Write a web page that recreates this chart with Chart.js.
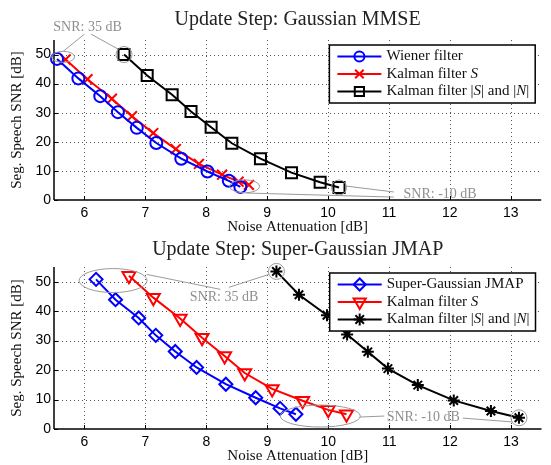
<!DOCTYPE html>
<html>

<head>
    <title>Update Step</title>
    <script src="https://cdn.jsdelivr.net/npm/chart.js"></script>
    <style>
        body { margin: 0; background: #fff; }
        canvas { display: block; }
    </style>
</head>

<body>
    <canvas id="top" width="551" height="236"></canvas>
    <canvas id="bottom" width="551" height="229"></canvas>

    <script type="text/javascript">
        // tick labels
        const xTicks = [6, 7, 8, 9, 10, 11, 12, 13];
        const yTicks = [0, 10, 20, 30, 40, 50];

        // Update step: Gaussian MMSE
        const wienerX = [5.55, 5.90, 6.26, 6.55, 6.86, 7.18, 7.59, 8.02, 8.37, 8.56];
        const wienerY = [48.5, 41.8, 35.7, 30.2, 24.8, 19.6, 14.2, 9.8, 6.6, 4.5];
        const kalmanSX = [5.69, 6.05, 6.45, 6.78, 7.13, 7.50, 7.88, 8.26, 8.53, 8.70];
        const kalmanSY = [48.3, 41.5, 34.8, 28.8, 23.0, 17.5, 12.4, 8.7, 6.3, 5.2];
        const kalmanSNX = [6.65, 7.03, 7.44, 7.75, 8.08, 8.42, 8.89, 9.40, 9.87, 10.18];
        const kalmanSNY = [50.0, 42.8, 36.2, 30.4, 25.0, 19.5, 14.2, 9.4, 6.1, 4.3];

        // Update step: Super-Gaussian JMAP
        const jmapX = [6.19, 6.51, 6.89, 7.17, 7.49, 7.84, 8.32, 8.81, 9.21, 9.47];
        const jmapY = [50.8, 43.9, 37.7, 31.8, 26.3, 20.9, 15.2, 10.6, 7.0, 5.0];
        const jmapKalmanSX = [6.73, 7.13, 7.57, 7.93, 8.30, 8.63, 9.08, 9.58, 10.00, 10.30];
        const jmapKalmanSY = [52.0, 44.6, 37.5, 31.0, 24.8, 19.0, 13.6, 9.6, 6.5, 5.0];
        const jmapKalmanSNX = [9.15, 9.52, 9.98, 10.31, 10.65, 10.98, 11.47, 12.06, 12.67, 13.13];
        const jmapKalmanSNY = [53.5, 45.6, 38.6, 32.1, 26.2, 20.5, 14.9, 9.7, 6.1, 3.8];

        const SERIF = "'Liberation Serif', 'DejaVu Serif', serif";
        const SANS = "'Liberation Sans', Arial, sans-serif";
        const NOTE = '#8f8f8f';

        function pts(xs, ys) {
            return xs.map((x, i) => ({ x: x, y: ys[i] }));
        }

        function line(ctx, x1, y1, x2, y2) {
            ctx.beginPath();
            ctx.moveTo(x1, y1);
            ctx.lineTo(x2, y2);
            ctx.stroke();
        }

        // dotted grid, axes and inward ticks
        const frame = {
            id: 'frame',
            beforeDatasetsDraw(chart) {
                const { ctx, chartArea: a, scales: { x, y } } = chart;
                ctx.save();
                ctx.strokeStyle = '#555';
                ctx.lineWidth = 1;
                ctx.setLineDash([1, 3]);
                xTicks.forEach(v => {
                    const p = Math.round(x.getPixelForValue(v)) + 0.5;
                    line(ctx, p, a.top, p, a.bottom);
                });
                yTicks.forEach(v => {
                    if (v === 0) return;
                    const p = Math.round(y.getPixelForValue(v)) + 0.5;
                    line(ctx, a.left, p, a.right, p);
                });
                ctx.setLineDash([]);
                ctx.strokeStyle = '#000';
                xTicks.forEach(v => {
                    const p = Math.round(x.getPixelForValue(v)) + 0.5;
                    line(ctx, p, a.bottom, p, a.bottom - 4);
                });
                yTicks.forEach(v => {
                    const p = Math.round(y.getPixelForValue(v)) + 0.5;
                    line(ctx, a.left, p, a.left + 4, p);
                });
                ctx.lineWidth = 1.5;
                line(ctx, a.left, a.top, a.left, a.bottom);
                line(ctx, a.left, a.bottom, a.right, a.bottom);
                ctx.restore();
            }
        };

        // gray SNR call-outs, anchored in data units
        const notes = {
            id: 'notes',
            afterDatasetsDraw(chart, args, opts) {
                const { ctx, scales: { x, y } } = chart;
                const px = v => x.getPixelForValue(v);
                const py = v => y.getPixelForValue(v);
                ctx.save();
                ctx.strokeStyle = '#9a9a9a';
                ctx.lineWidth = 1;
                opts.rings.forEach(r => {
                    ctx.beginPath();
                    ctx.ellipse(px(r.x), py(r.y), r.rx, r.ry, 0, 0, 2 * Math.PI);
                    ctx.stroke();
                });
                opts.leaders.forEach(l => line(ctx, px(l[0]), py(l[1]), px(l[2]), py(l[3])));
                ctx.fillStyle = NOTE;
                ctx.font = '14px ' + SERIF;
                ctx.textAlign = 'center';
                ctx.textBaseline = 'middle';
                opts.labels.forEach(t => ctx.fillText(t.text, px(t.x), py(t.y)));
                ctx.restore();
            }
        };

        // boxed legend with italic math symbols
        const boxLegend = {
            id: 'boxLegend',
            afterDraw(chart, args, opts) {
                const { ctx, chartArea: a } = chart;
                const up = '15px ' + SERIF, it = 'italic 15px ' + SERIF;
                ctx.save();
                let maxW = 0;
                opts.rows.forEach(r => {
                    let w = 0;
                    r.parts.forEach(p => { ctx.font = p[1] ? it : up; w += ctx.measureText(p[0]).width; });
                    maxW = Math.max(maxW, w);
                });
                const w = 57 + maxW + 6, h = 58;
                const left = a.right - 6 - w, top = a.top + opts.top;
                ctx.fillStyle = '#fff';
                ctx.fillRect(left, top, w, h);
                ctx.strokeStyle = '#000';
                ctx.lineWidth = 1.5;
                ctx.strokeRect(left, top, w, h);
                opts.rows.forEach((r, i) => {
                    const cy = top + 11.5 + i * 17.5;
                    ctx.strokeStyle = r.color;
                    ctx.lineWidth = 2;
                    line(ctx, left + 8, cy, left + 52, cy);
                    ctx.fillStyle = 'rgba(0,0,0,0)';
                    Chart.helpers.drawPoint(ctx, {
                        pointStyle: r.style, radius: r.radius, rotation: r.rotation || 0, borderWidth: 2
                    }, left + 30, cy);
                    ctx.fillStyle = '#111';
                    ctx.textBaseline = 'middle';
                    let tx = left + 57;
                    r.parts.forEach(p => {
                        ctx.font = p[1] ? it : up;
                        ctx.fillText(p[0], tx, cy);
                        tx += ctx.measureText(p[0]).width;
                    });
                });
                ctx.restore();
            }
        };

        function series(xs, ys, color, style, radius, rotation) {
            return {
                data: pts(xs, ys),
                borderColor: color,
                backgroundColor: color,
                borderWidth: 2,
                tension: 0,
                pointStyle: style,
                pointRadius: radius,
                pointRotation: rotation || 0,
                pointBorderWidth: 2,
                pointBorderColor: color,
                pointBackgroundColor: 'rgba(0,0,0,0)',
                clip: false
            };
        }

        function makeChart(id, title, titlePad, datasets, rows, legendTop, callouts) {
            return new Chart(document.getElementById(id), {
                type: 'line',
                data: { datasets: datasets },
                plugins: [frame, notes, boxLegend],
                options: {
                    responsive: false,
                    animation: false,
                    events: [],
                    layout: { padding: { left: 0, right: 1, top: 0, bottom: 0 } },
                    scales: {
                        x: {
                            type: 'linear', min: 5.5, max: 13.5,
                            afterBuildTicks: s => { s.ticks = xTicks.map(v => ({ value: v })); },
                            afterFit: s => { s.height = 36; },
                            grid: { display: false, drawTicks: false },
                            border: { display: false },
                            ticks: { color: '#000', padding: 5, font: { family: SANS, size: 14 } },
                            title: {
                                display: true, text: 'Noise Attenuation [dB]', color: '#111',
                                font: { family: SERIF, size: 15 }, padding: { top: 0, bottom: 0 }
                            }
                        },
                        y: {
                            type: 'linear', min: 0, max: 55,
                            afterBuildTicks: s => { s.ticks = yTicks.map(v => ({ value: v })); },
                            afterFit: s => { s.width = 54; },
                            grid: { display: false, drawTicks: false },
                            border: { display: false },
                            ticks: { color: '#000', padding: 3, font: { family: SANS, size: 14 } },
                            title: {
                                display: true, text: 'Seg. Speech SNR [dB]', color: '#111',
                                font: { family: SERIF, size: 15 }, padding: { top: 8, bottom: 0 }
                            }
                        }
                    },
                    plugins: {
                        legend: { display: false },
                        tooltip: { enabled: false },
                        title: {
                            display: true, text: title, fullSize: false, color: '#222',
                            font: { family: SERIF, size: 20, weight: 'normal' },
                            padding: titlePad
                        },
                        notes: callouts,
                        boxLegend: { rows: rows, top: legendTop }
                    }
                }
            });
        }

        makeChart('top', 'Update Step: Gaussian MMSE', { top: 8, bottom: 8 }, [
            series(wienerX, wienerY, '#0000ff', 'circle', 6),
            series(kalmanSX, kalmanSY, '#ff0000', 'crossRot', 7),
            series(kalmanSNX, kalmanSNY, '#000000', 'rect', 7.8)
        ], [
            { parts: [['Wiener filter', false]], color: '#0000ff', style: 'circle', radius: 5 },
            { parts: [['Kalman filter ', false], ['S', true]], color: '#ff0000', style: 'crossRot', radius: 6 },
            { parts: [['Kalman filter |', false], ['S', true], ['| and |', false], ['N', true], ['|', false]],
              color: '#000000', style: 'rect', radius: 6.5 }
        ], 5, {
            rings: [
                { x: 5.65, y: 49.2, rx: 11.5, ry: 5.5 },
                { x: 6.65, y: 50.0, rx: 8, ry: 8 },
                { x: 8.63, y: 4.7, rx: 15, ry: 6.5 },
                { x: 10.18, y: 4.3, rx: 7.5, ry: 7.5 }
            ],
            leaders: [
                [6.0, 57.0, 5.65, 51.1],
                [6.11, 57.0, 6.55, 51.9],
                [10.29, 4.8, 11.08, 2.76],
                [8.66, 2.4, 11.08, 1.0]
            ],
            labels: [
                { text: 'SNR: 35 dB', x: 6.05, y: 59.4 },
                { text: 'SNR: -10 dB', x: 11.84, y: 2.1 }
            ]
        });

        makeChart('bottom', 'Update Step: Super-Gaussian JMAP', { top: 2, bottom: 5 }, [
            series(jmapX, jmapY, '#0000ff', 'rectRot', 6.5),
            series(jmapKalmanSX, jmapKalmanSY, '#ff0000', 'triangle', 7.5, 180),
            series(jmapKalmanSNX, jmapKalmanSNY, '#000000', 'star', 6)
        ], [
            { parts: [['Super-Gaussian JMAP', false]], color: '#0000ff', style: 'rectRot', radius: 6 },
            { parts: [['Kalman filter ', false], ['S', true]], color: '#ff0000', style: 'triangle', radius: 7, rotation: 180 },
            { parts: [['Kalman filter |', false], ['S', true], ['| and |', false], ['N', true], ['|', false]],
              color: '#000000', style: 'star', radius: 6 }
        ], 6, {
            rings: [
                { x: 6.47, y: 50.4, rx: 34, ry: 12 },
                { x: 9.15, y: 53.5, rx: 8, ry: 8 },
                { x: 9.87, y: 4.4, rx: 40, ry: 11 },
                { x: 13.13, y: 3.8, rx: 8, ry: 8 }
            ],
            leaders: [
                [7.02, 52.5, 8.23, 47.4],
                [8.37, 48.1, 9.03, 52.5],
                [10.52, 4.06, 10.92, 4.4],
                [12.21, 3.7, 13.02, 2.4]
            ],
            labels: [
                { text: 'SNR: 35 dB', x: 8.29, y: 44.7 },
                { text: 'SNR: -10 dB', x: 11.56, y: 4.06 }
            ]
        });
    </script>
</body>

</html>
